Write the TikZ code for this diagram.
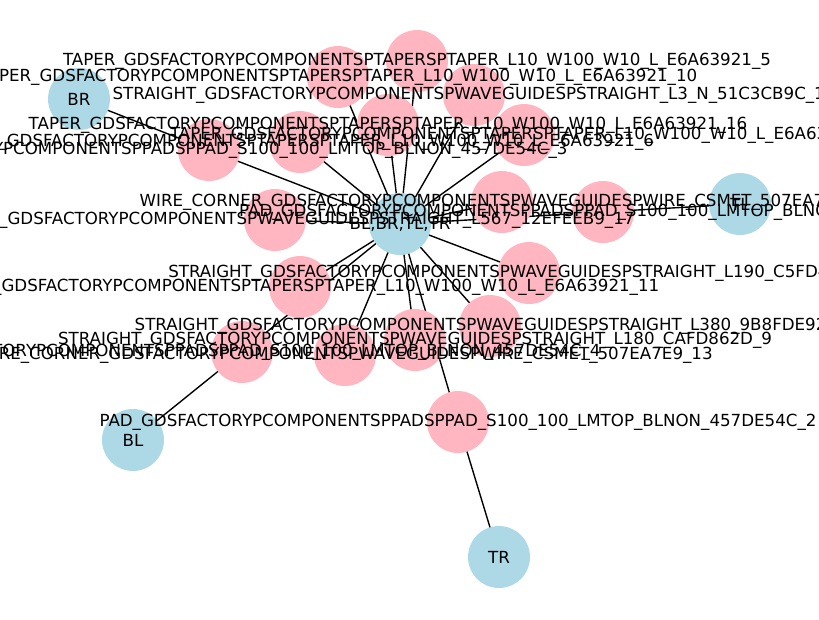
\documentclass[tikz,border=0pt]{standalone}
\usepackage{fontspec}
\setmainfont{DejaVu Sans}
\usetikzlibrary{backgrounds}

\definecolor{portblue}{HTML}{ADD8E6}
\definecolor{comppink}{HTML}{FFB6C1}

\tikzset{
        port/.style={circle,fill=portblue,minimum size=44.6pt,inner sep=0pt},
        comp/.style={circle,fill=comppink,minimum size=44.6pt,inner sep=0pt},
        nametext/.style={inner sep=0pt,font=\fontsize{12}{14}\selectfont},
        link/.style={line width=1pt,black},
    }

\newcommand\taperlbl{TAPER\_GDSFACTORYPCOMPONENTSPTAPERSPTAPER\_L10\_W100\_W10\_L\_E6A63921\_}
\newcommand\padlbl{PAD\_GDSFACTORYPCOMPONENTSPPADSPPAD\_S100\_100\_LMTOP\_BLNON\_457DE54C\_}
\newcommand\straightlbl{STRAIGHT\_GDSFACTORYPCOMPONENTSPWAVEGUIDESPSTRAIGHT\_}
\newcommand\wirelbl{WIRE\_CORNER\_GDSFACTORYPCOMPONENTSPWAVEGUIDESPWIRE\_CSMET\_507EA7E9\_}

\begin{document}
\begin{tikzpicture}[x=0.72pt,y=-0.72pt]
    \useasboundingbox (0,0) rectangle (819,619);

    %ports
    \node[port] (BR) at (79,99) {};
    \node[port] (hub) at (400,224) {};
    \node[port] (TL) at (740,204) {};
    \node[port] (BL) at (133,440) {};
    \node[port] (TR) at (499,557) {};
    %components
    \node[comp] (t5) at (417,61) {};
    \node[comp] (t10) at (338,77) {};
    \node[comp] (s12) at (474,95) {};
    \node[comp] (t16) at (388,125) {};
    \node[comp] (t8) at (524,135) {};
    \node[comp] (t6) at (300,142) {};
    \node[comp] (p3) at (209,150) {};
    \node[comp] (w7) at (502,202) {};
    \node[comp] (p14) at (603,212) {};
    \node[comp] (s17) at (275,220) {};
    \node[comp] (s15) at (529,273) {};
    \node[comp] (t11) at (300,287) {};
    \node[comp] (s1) at (490,326) {};
    \node[comp] (s9) at (415,340) {};
    \node[comp] (p4) at (242,352) {};
    \node[comp] (w13) at (345,355) {};
    \node[comp] (p2) at (458,422) {};

    %wires behind the nodes
    \begin{pgfonlayer}{background}
        \foreach \c in {t5,t10,s12,t16,t8,t6,w7,s17,s15,t11,s1,s9,w13}
            \draw[link] (hub.center) -- (\c.center);
        \draw[link] (BR.center) -- (p3.center) -- (hub.center);
        \draw[link] (TL.center) -- (p14.center) -- (hub.center);
        \draw[link] (BL.center) -- (p4.center) -- (hub.center);
        \draw[link] (TR.center) -- (p2.center) -- (hub.center);
    \end{pgfonlayer}

    %names on top
    \node[nametext] (BR text) at (BR) {BR};
    \node[nametext] (TL text) at (TL) {TL};
    \node[nametext] (BL text) at (BL) {BL};
    \node[nametext] (TR text) at (TR) {TR};
    \node[nametext] (t5 text) at (t5) {\taperlbl 5};
    \node[nametext] (t10 text) at (t10) {\taperlbl 10};
    \node[nametext] (s12 text) at (s12) {\straightlbl L3\_N\_51C3CB9C\_12};
    \node[nametext] (t16 text) at (t16) {\taperlbl 16};
    \node[nametext] (t8 text) at (t8) {\taperlbl 8};
    \node[nametext] (t6 text) at (t6) {\taperlbl 6};
    \node[nametext] (p3 text) at (p3) {\padlbl 3};
    \node[nametext] (w7 text) at (w7) {\wirelbl 7};
    \node[nametext] (p14 text) at (p14) {\padlbl 14};
    \node[nametext] (s17 text) at (s17) {\straightlbl L567\_12EFEEB9\_17};
    \node[nametext] (hub text) at (hub) {BL,BR,TL,TR};
    \node[nametext] (s15 text) at (s15) {\straightlbl L190\_C5FD4E21\_15};
    \node[nametext] (t11 text) at (t11) {\taperlbl 11};
    \node[nametext] (s1 text) at (s1) {\straightlbl L380\_9B8FDE92\_1};
    \node[nametext] (s9 text) at (s9) {\straightlbl L180\_CAFD862D\_9};
    \node[nametext] (p4 text) at (p4) {\padlbl 4};
    \node[nametext] (w13 text) at (w13) {\wirelbl 13};
    \node[nametext] (p2 text) at (p2) {\padlbl 2};
\end{tikzpicture}
\end{document}
